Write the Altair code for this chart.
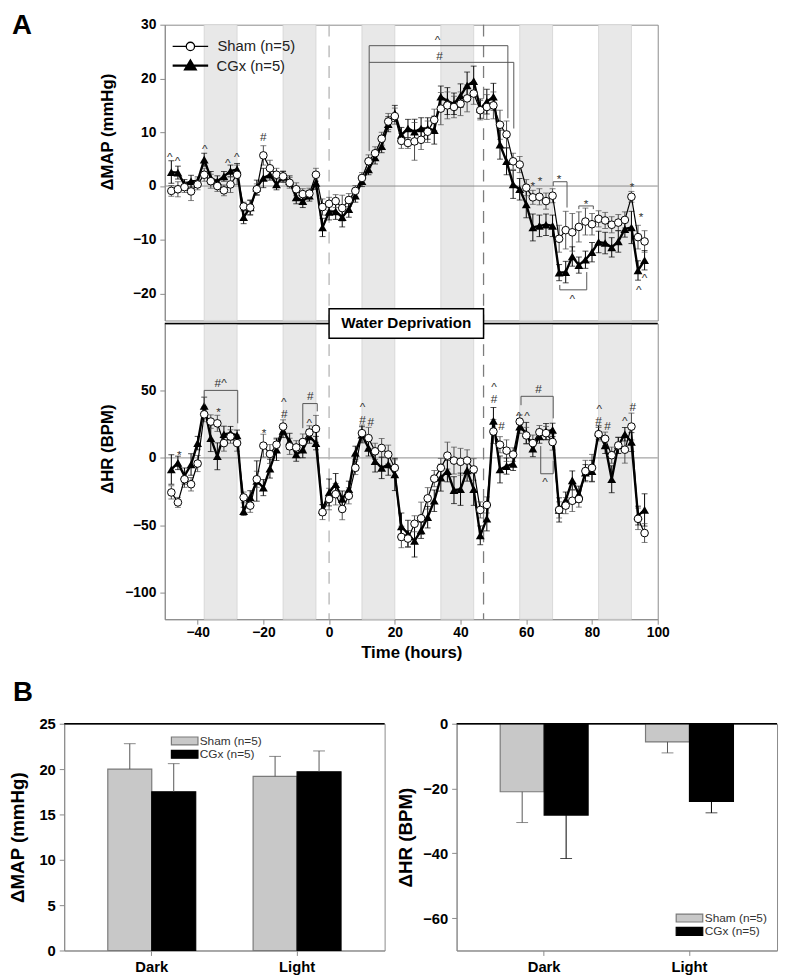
import altair as alt
import pandas as pd

FONT = "Liberation Sans"

# ---------------- time-course data (every 2 h) ----------------
hours = list(range(-48, 97, 2))

map_sham = [
    -0.9, -0.6, -0.2, -1.0, 0.3, 2.1, 0.9, 0.0,
    -0.8, 0.3, 2.1, -3.8, -4.0, -0.6, 5.7, 3.3,
    2.1, 1.8, 0.6, -0.6, -1.5, -1.4, 2.1, -3.9,
    -3.3, -2.8, -4.1, -2.6, -0.9, 1.5, 4.6, 6.1,
    8.8, 12.0, 13.0, 8.4, 8.0, 8.3, 8.6, 10.1,
    12.3, 14.4, 15.0, 14.7, 15.3, 16.3, 17.2, 14.1,
    14.7, 15.0, 11.4, 9.6, 4.6, 4.0, -0.3, -2.1,
    -2.0, -2.8, -1.8, -9.8, -8.2, -8.6, -7.6, -6.6,
    -7.1, -6.1, -6.4, -7.2, -6.8, -6.3, -2.0, -9.5,
    -10.3,
]
map_sham_err = [
    1.0, 1.4, 1.0, 1.7, 1.0, 1.2, 1.3, 1.0,
    1.0, 1.5, 1.8, 0.8, 1.3, 1.0, 1.8, 1.5,
    1.2, 1.0, 1.0, 1.2, 1.0, 1.0, 1.2, 1.5,
    1.2, 1.2, 2.4, 1.2, 1.0, 1.0, 1.2, 1.2,
    1.2, 1.5, 1.5, 1.4, 1.0, 3.5, 1.8, 2.0,
    2.0, 3.0, 2.5, 2.0, 2.2, 2.5, 2.0, 1.8,
    2.3, 2.5, 2.7, 2.5, 1.5, 1.5, 1.5, 1.3,
    1.5, 1.5, 1.3, 2.5, 3.5, 3.5, 2.8, 2.5,
    2.0, 1.5, 1.5, 1.5, 1.5, 1.5, 1.0, 2.2,
    2.0,
]
map_cgx = [
    2.6, 2.5, 0.3, 0.9, 0.9, 4.9, 1.5, 0.9,
    1.8, 2.8, 3.1, -5.8, -4.0, -0.3, 1.5, 2.1,
    0.3, 1.7, 0.9, -2.1, -2.8, -1.8, 0.6, -7.7,
    -4.8, -4.7, -5.8, -4.3, -1.8, 0.9, 3.1, 5.3,
    7.4, 11.5, 13.5, 9.5, 10.7, 10.1, 10.7, 10.7,
    10.4, 16.6, 15.8, 15.3, 16.8, 18.7, 19.5, 14.4,
    15.7, 16.6, 7.7, 4.6, 0.3, -0.6, -3.4, -7.7,
    -7.4, -7.2, -7.4, -16.1, -16.0, -13.1, -14.7, -13.7,
    -12.3, -10.4, -10.6, -11.4, -10.3, -8.0, -7.7, -15.7,
    -13.8,
]
map_cgx_err = [
    2.1, 1.2, 0.9, 1.1, 0.8, 1.2, 1.2, 1.0,
    0.9, 1.1, 1.1, 1.2, 1.4, 1.4, 1.8, 1.0,
    1.0, 1.0, 1.0, 1.2, 1.2, 1.0, 1.2, 1.7,
    1.5, 1.5, 1.8, 1.5, 1.2, 1.0, 1.0, 1.2,
    1.2, 1.4, 1.5, 1.4, 1.7, 2.3, 2.0, 2.0,
    2.6, 2.0, 2.5, 2.0, 2.2, 2.5, 2.8, 1.8,
    2.3, 2.5, 2.7, 2.5, 2.6, 2.0, 2.5, 2.5,
    2.0, 2.0, 2.0, 1.5, 2.0, 1.8, 1.5, 1.6,
    1.8, 2.0, 2.0, 1.8, 2.0, 1.5, 3.0, 1.8,
    1.8,
]
hr_sham = [
    -25.7, -33.1, -15.9, -19.6, -4.2, 32.4, 27.0, 25.7,
    11.0, 15.9, 11.0, -29.4, -35.5, -15.9, 9.1, 2.9,
    9.8, 23.3, 8.6, 7.8, 11.8, 18.9, 21.6, -40.4,
    -30.6, -27.0, -38.0, -28.2, -7.4, 18.4, 14.7, 4.9,
    7.4, 2.5, -7.4, -58.8, -60.0, -49.0, -44.9, -30.1,
    -15.4, -7.4, 1.7, -2.0, -2.9, -2.0, -8.6, -38.7,
    -35.0, 19.6, 9.8, 5.4, 2.5, 27.0, 16.7, 11.0,
    19.1, 18.4, 11.8, -38.7, -35.5, -31.9, -30.6, -9.8,
    -7.4, 17.6, 14.2, 2.0, 9.3, 6.1, 23.3, -45.3,
    -55.9,
]
hr_sham_err = [
    4.9, 3.7, 6, 5, 6, 5.5, 5, 6,
    6, 5, 6, 4, 5, 6, 8.5, 7,
    5, 5, 6, 5, 6, 5, 10, 5.5,
    8, 8, 8, 6, 5, 6, 8, 6,
    7, 7, 6, 8, 6, 6, 12, 8,
    6, 7, 10, 10, 10, 8, 8, 6,
    6, 9, 6, 8, 5, 5, 6, 6,
    5, 5, 6, 6, 6, 8, 6, 8,
    10, 5, 5, 6, 6, 10, 10, 8,
    7,
]
hr_cgx = [
    -8.6, -3.7, -13.5, -4.9, 11.0, 38.7, 14.7, 1.2,
    17.6, 18.4, 16.7, -39.7, -29.4, -17.2, -22.1, -8.0,
    6.1, 20.1, 12.3, 2.5, 6.1, 15.9, 11.0, -38.7,
    -25.7, -19.6, -30.6, -23.3, 3.7, 17.2, 7.4, -2.5,
    -7.4, -4.9, -12.3, -51.0, -56.4, -61.8, -53.9, -44.1,
    -31.9, -14.7, -9.8, -24.0, -23.3, -9.3, -23.3, -57.6,
    -45.3, 27.5, -8.6, -6.1, -4.4, 23.3, 18.4, 6.9,
    15.9, 19.6, 20.8, -38.7, -31.4, -16.7, -27.0, -11.0,
    -9.8, 18.9, 9.3, -15.9, 9.3, 17.6, 11.8, -42.9,
    -38.7,
]
hr_cgx_err = [
    11, 5, 6, 8, 5, 6.5, 10, 10,
    6, 5, 4, 3, 5, 15, 6, 7,
    8, 5, 6, 5, 6, 5, 5, 4,
    10, 8, 6, 6, 5, 6, 6, 8,
    8, 8, 12, 10, 10, 12, 6, 8,
    8, 10, 8, 10, 12, 8, 12, 7,
    9, 10, 10, 6, 5, 5, 8, 6,
    5, 6, 5, 9, 6, 7, 6, 6,
    8, 5, 6, 10, 6, 5, 7, 7,
    12,
]

# dark phases, water-deprivation markers
dark_start = [-38, -14, 10, 34, 58, 82]
dark_end = [-28, -4, 20, 44, 68, 92]
dash_at = [0, 47]
dash_color = ["#b4b4b4", "#7c7c7c"]
wd_label = ["Water Deprivation"]
wd_x = [0, 47]
wd_y = [89, 111]

# significance symbols
map_ann_h = [-48.5, -46.1, -37.8, -30.8, -28.1, -20.0, 33.0, 33.6, 62.0, 64.2,
             70.0, 78.2, 74.0, 92.2, 94.9, 94.2, 96.0]
map_ann_v = [5.9, 5.2, 7.4, 4.9, 5.9, 9.2, 27.7, 24.2, 0.6, 1.5,
             1.9, -2.65, -20.4, 0.4, -5.2, -18.8, -16.6]
map_ann_t = ["^", "^", "^", "^", "^", "#", "^", "#", "*", "*",
             "*", "*", "^", "*", "*", "^", "^"]

hr_ann_h = [-45.6, -33.0, -33.6, -19.8, -13.8, -13.6, -5.7, -6.0, 10.2, 10.2,
            12.7, 50.2, 50.2, 52.5, 57.7, 60.2, 63.7, 65.7, 82.2, 82.0,
            84.7, 90.0, 92.4]
hr_ann_v = [4.9, 55.7, 36.8, 21.3, 43.6, 32.3, 46.1, 28.2, 39.8, 28.0,
            26.6, 55.2, 43.4, 24.0, 33.6, 33.6, 51.5, -16.0, 38.8, 27.6,
            24.0, 29.9, 38.0]
hr_ann_t = ["*", "#^", "*", "*", "^", "#", "#", "^", "^", "#",
            "#", "^", "#", "#", "^", "^", "#", "^", "^", "#",
            "#", "^", "#"]

# brackets
map_seg_x1 = [12.2, 12.2, 54.4, 12.2, 56.2, 68.2, 68.2, 72.4, 76.0, 76.0, 80.4, 70.2, 70.2, 78.4]
map_seg_y1 = [26.1, 26.1, 26.1, 23.0, 23.0, 0.8, 0.8, 0.8, -3.7, -3.7, -3.7, -19.3, -19.3, -19.3]
map_seg_x2 = [54.4, 12.2, 54.4, 56.2, 56.2, 72.4, 68.2, 72.4, 80.4, 76.0, 80.4, 78.4, 70.2, 78.4]
map_seg_y2 = [26.1, 6.5, 12.6, 23.0, 10.7, 0.8, 0.0, -4.0, -3.7, -4.3, -4.3, -19.3, -18.4, -16.0]

hr_seg_x1 = [-38.0, -38.0, -27.8, -8.0, -8.0, -3.6, 58.4, 58.4, 68.2, 64.4, 64.4, 68.2]
hr_seg_y1 = [50.2, 50.2, 50.2, 40.4, 40.4, 40.4, 45.8, 45.8, 45.8, -11.8, -11.8, -11.8]
hr_seg_x2 = [-27.8, -38.0, -27.8, -3.6, -8.0, -3.6, 68.2, 58.4, 68.2, 68.2, 64.4, 68.2]
hr_seg_y2 = [50.2, 39.7, 25.7, 40.4, 22.1, 34.6, 45.8, 39.2, 29.4, -11.8, 8.8, -2.2]

# ---------------- bar data ----------------
groups = ["Sham (n=5)", "CGx (n=5)"]
bar_cats = ["Dark", "Light"]
bar_map_sham = [20.0, 19.2]
bar_map_sham_err = [2.8, 2.2]
bar_map_cgx = [17.5, 19.7]
bar_map_cgx_err = [3.1, 2.3]
bar_hr_sham = [-21.0, -5.6]
bar_hr_sham_err = [9.5, 3.4]
bar_hr_cgx = [-28.2, -24.0]
bar_hr_cgx_err = [13.4, 3.5]

# ---------------- styling ----------------
W = 500
H = 300
BAR_W = 325
BAR_H = 230
AX = "#8a8a8a"
XS = alt.Scale(domain=[-50, 100], nice=False, zero=False)

SHAM_PATH = "M-3,0L-0.7,0M0.7,0L3,0M0.7,0A0.7,0.7 0 1,1 -0.7,0A0.7,0.7 0 1,1 0.7,0Z"
CGX_PATH = "M-3,0L3,0M0,-0.82L0.85,0.62L-0.85,0.62Z"
RECT_PATH = "M-2.45,-0.73L2.45,-0.73L2.45,0.73L-2.45,0.73Z"


def time_panel(sham, sham_err, cgx, cgx_err, ydom, yvals, ytitle, title_y,
               ann_h, ann_v, ann_t, sx1, sy1, sx2, sy2, is_map):
    ys = alt.Scale(domain=ydom, nice=False, zero=False)
    yaxis = alt.Axis(values=yvals, tickSize=5, labelPadding=4, labelFontSize=14,
                     labelFontWeight="bold", labelFlush=False, titleFontSize=17,
                     titleFontWeight="bold", titleAngle=-90, titleAlign="center",
                     titleBaseline="bottom", titleX=-49.5, titleY=title_y,
                     domainColor=AX, tickColor=AX)
    if is_map:
        xkw = dict(axis=None)
    else:
        xkw = dict(axis=alt.Axis(values=[-40, -20, 0, 20, 40, 60, 80, 100], tickSize=5,
                                 labelPadding=2, labelFontSize=14, labelFontWeight="bold",
                                 labelFlush=False, titleFontSize=17, titleFontWeight="bold",
                                 titlePadding=5, domainColor=AX, tickColor=AX),
                   title="Time (hours)")

    def X(f):
        return alt.X(f + ":Q", scale=XS, **xkw)

    def Y(f):
        return alt.Y(f + ":Q", scale=ys, axis=yaxis, title=ytitle)

    ts = pd.DataFrame({"h": hours, "v": sham,
                       "lo": [a - b for a, b in zip(sham, sham_err)],
                       "hi": [a + b for a, b in zip(sham, sham_err)],
                       "g": groups[0], "ec": "#4a4a4a"})
    tc = pd.DataFrame({"h": hours, "v": cgx,
                       "lo": [a - b for a, b in zip(cgx, cgx_err)],
                       "hi": [a + b for a, b in zip(cgx, cgx_err)],
                       "g": groups[1], "ec": "#000000"})
    eb = pd.concat([ts, tc], ignore_index=True)

    if is_map:
        leg_sham = alt.Legend(orient="none", legendX=18.5, legendY=14.5, title=None,
                              symbolType=SHAM_PATH, symbolSize=144, symbolStrokeWidth=1.3,
                              symbolFillColor="white", symbolStrokeColor="black",
                              labelOffset=20, labelFontSize=15, labelColor="#222", padding=0)
        leg_cgx = alt.Legend(orient="none", legendX=18.5, legendY=34, title=None,
                             symbolType=CGX_PATH, symbolSize=144, symbolStrokeWidth=2.4,
                             symbolStrokeColor="black", labelOffset=19, labelFontSize=15,
                             labelColor="#222", padding=0)
    else:
        leg_sham = None
        leg_cgx = None

    layers = [
        alt.Chart(pd.DataFrame({"s": dark_start, "e": dark_end}))
        .mark_rect(color="#e8e8e8", stroke="#d3d3d3", strokeWidth=0.8)
        .encode(x=X("s"), x2="e:Q"),
        alt.Chart(pd.DataFrame({"z": [0]}))
        .mark_rule(color="#8c8c8c", strokeWidth=1)
        .encode(y=Y("z")),
        alt.Chart(pd.DataFrame({"d": dash_at, "c": dash_color}))
        .mark_rule(strokeDash=[12, 9], strokeWidth=1.3)
        .encode(x=X("d"), color=alt.Color("c:N", scale=None)),
        alt.Chart(eb).mark_rule(strokeWidth=1)
        .encode(x=X("h"), y=Y("lo"), y2="hi:Q", color=alt.Color("ec:N", scale=None)),
        alt.Chart(eb).mark_tick(orient="horizontal", size=6, thickness=1)
        .encode(x=X("h"), y=Y("lo"), color=alt.Color("ec:N", scale=None)),
        alt.Chart(eb).mark_tick(orient="horizontal", size=6, thickness=1)
        .encode(x=X("h"), y=Y("hi"), color=alt.Color("ec:N", scale=None)),
        alt.Chart(tc).mark_line(color="black", strokeWidth=2.4)
        .encode(x=X("h"), y=Y("v")),
        alt.Chart(tc).mark_point(shape="triangle-up", filled=True, size=80, opacity=1)
        .encode(x=X("h"), y=Y("v"),
                fill=alt.Fill("g:N", scale=alt.Scale(domain=[groups[1]], range=["black"]),
                              legend=leg_cgx)),
        alt.Chart(ts).mark_line(color="black", strokeWidth=1.2)
        .encode(x=X("h"), y=Y("v")),
        alt.Chart(ts).mark_point(shape="circle", filled=True, fill="white", size=60,
                                 strokeWidth=1, opacity=1)
        .encode(x=X("h"), y=Y("v"),
                stroke=alt.Stroke("g:N", scale=alt.Scale(domain=[groups[0]], range=["black"]),
                                  legend=leg_sham)),
        alt.Chart(pd.DataFrame({"x1": sx1, "y1": sy1, "x2": sx2, "y2": sy2}))
        .mark_rule(color="#555555", strokeWidth=1)
        .encode(x=X("x1"), y=Y("y1"), x2="x2:Q", y2="y2:Q"),
    ]

    ann = pd.DataFrame({"h": ann_h, "v": ann_v, "t": ann_t})
    for sym, dy in (("^", 3), ("*", 3.5), ("#", 0), ("#^", 0)):
        sub = ann[ann.t == sym]
        if len(sub):
            layers.append(
                alt.Chart(sub).mark_text(fontSize=12, color="#333333", dy=dy, baseline="middle")
                .encode(x=X("h"), y=Y("v"), text="t:N"))

    if not is_map:
        layers.append(
            alt.Chart(pd.DataFrame({"z": [ydom[1]]}))
            .mark_rule(color="black", strokeWidth=1.5)
            .encode(y=Y("z")))
        layers.append(
            alt.Chart(pd.DataFrame({"a": [wd_x[0]], "b": [wd_x[1]], "c": [wd_y[0]], "d": [wd_y[1]]}))
            .mark_rect(fill="white", stroke="black", strokeWidth=1.5)
            .encode(x=X("a"), x2="b:Q", y=Y("c"), y2="d:Q"))
        layers.append(
            alt.Chart(pd.DataFrame({"x": [(wd_x[0] + wd_x[1]) / 2], "y": [(wd_y[0] + wd_y[1]) / 2],
                                    "t": wd_label}))
            .mark_text(fontSize=15.5, fontWeight="bold", color="black", baseline="middle")
            .encode(x=X("x"), y=Y("y"), text="t:N"))

    return alt.layer(*layers).properties(width=W, height=H)


def bar_panel(sham, sham_err, cgx, cgx_err, ydom, yvals, ytitle, title_x, up,
              err_colors, leg_x, leg_y, leg_off, border_val, letter):
    sign = 1 if up else -1
    df = pd.DataFrame({
        "cat": bar_cats * 2,
        "g": [groups[0]] * 2 + [groups[1]] * 2,
        "v": sham + cgx,
        "end": [v + sign * e for v, e in zip(sham + cgx, sham_err + cgx_err)],
        "ec": [err_colors[0]] * 2 + [err_colors[1]] * 2,
    })
    xb = alt.X("cat:N", scale=alt.Scale(domain=bar_cats, paddingInner=0.395, paddingOuter=0.30),
               axis=alt.Axis(labelAngle=0, labelFontSize=15, labelFontWeight="bold",
                             labelPadding=4, tickSize=5, domainColor=AX, tickColor=AX, title=None))
    xo = alt.XOffset("g:N", scale=alt.Scale(domain=groups, paddingInner=0, paddingOuter=0))
    yaxis = alt.Axis(values=yvals, tickSize=5, labelPadding=4, labelFontSize=15,
                     labelFontWeight="bold", labelFlush=False, titleFontSize=19,
                     titleFontWeight="bold", titleAngle=-90, titleAlign="center",
                     titleBaseline="bottom", titleX=title_x, domainColor=AX, tickColor=AX)
    ys = alt.Scale(domain=ydom, nice=False)

    def Y(f):
        return alt.Y(f + ":Q", scale=ys, axis=yaxis, title=ytitle)

    legend = alt.Legend(orient="none", legendX=leg_x, legendY=leg_y, title=None,
                        symbolType=RECT_PATH, symbolSize=121, symbolStrokeColor="#555555",
                        symbolStrokeWidth=1.2, labelOffset=leg_off, labelFontSize=12,
                        labelColor="#333333", rowPadding=0.5, padding=0)
    layers = [
        alt.Chart(df).mark_bar(strokeWidth=1.2).encode(
            x=xb, xOffset=xo, y=Y("v"),
            fill=alt.Fill("g:N", scale=alt.Scale(domain=groups, range=["#c8c8c8", "#000000"]),
                          legend=legend),
            stroke=alt.Stroke("g:N", scale=alt.Scale(domain=groups, range=["#7a7a7a", "#000000"]),
                              legend=None)),
        alt.Chart(df).mark_rule(strokeWidth=1).encode(
            x=xb, xOffset=xo, y=Y("v"), y2="end:Q", color=alt.Color("ec:N", scale=None)),
        alt.Chart(df).mark_tick(orient="horizontal", size=12, thickness=1).encode(
            x=xb, xOffset=xo, y=Y("end"), color=alt.Color("ec:N", scale=None)),
        alt.Chart(pd.DataFrame({"z": [border_val]})).mark_rule(color="black", strokeWidth=1.3)
        .encode(y=Y("z")),
    ]
    if letter:
        layers.append(
            alt.Chart(pd.DataFrame({"t": [letter]}))
            .mark_text(align="left", baseline="top", fontSize=28, fontWeight="bold", color="black")
            .encode(x=alt.value(-52), y=alt.value(-45.5), text="t:N"))
    return alt.layer(*layers).properties(width=BAR_W, height=BAR_H)


map_panel = time_panel(map_sham, map_sham_err, map_cgx, map_cgx_err, [-25, 30],
                       [-20, -10, 0, 10, 20, 30], "\u0394MAP (mmHg)", 108.5,
                       map_ann_h, map_ann_v, map_ann_t,
                       map_seg_x1, map_seg_y1, map_seg_x2, map_seg_y2, True)
hr_panel = time_panel(hr_sham, hr_sham_err, hr_cgx, hr_cgx_err, [-120, 100],
                      [-100, -50, 0, 50], "\u0394HR (BPM)", 127,
                      hr_ann_h, hr_ann_v, hr_ann_t,
                      hr_seg_x1, hr_seg_y1, hr_seg_x2, hr_seg_y2, False)

panels = alt.vconcat(map_panel, hr_panel, spacing=-16).resolve_scale(
    fill="independent", stroke="independent", color="independent")

# narrow blank cell carrying the panel letter "A" (keeps the time panels indented)
letter_a = (
    alt.Chart(pd.DataFrame({"t": ["A"]}))
    .mark_text(align="left", baseline="top", fontSize=28, fontWeight="bold", color="black")
    .encode(x=alt.value(-53), y=alt.value(-12.5), text="t:N")
    .properties(width=33, height=10, view=alt.ViewBackground(stroke="transparent"))
)

top = alt.hconcat(letter_a, panels, spacing=0).resolve_scale(
    fill="independent", stroke="independent", color="independent")

bar_left = bar_panel(bar_map_sham, bar_map_sham_err, bar_map_cgx, bar_map_cgx_err,
                     [0, 25], [0, 5, 10, 15, 20, 25], "\u0394MAP (mmHg)", -37.5, True,
                     ["#555555", "#555555"], 115.7, 11, 8.7, 25, "B")
bar_right = bar_panel(bar_hr_sham, bar_hr_sham_err, bar_hr_cgx, bar_hr_cgx_err,
                      [-70, 0], [0, -20, -40, -60], "\u0394HR (BPM)", -42, False,
                      ["#555555", "#000000"], 229.7, 190.6, 9, 0, None)

bottom = alt.hconcat(bar_left, bar_right, spacing=9).resolve_scale(
    fill="independent", stroke="independent", color="independent", y="independent")

chart = (
    alt.vconcat(top, bottom, spacing=17)
    .resolve_scale(fill="independent", stroke="independent", color="independent")
    .properties(padding={"left": 0, "top": -3, "right": 0, "bottom": 0})
    .configure(font=FONT)
    .configure_view(stroke=AX, strokeWidth=1)
    .configure_axis(grid=False, labelColor="black", titleColor="black",
                    labelFont=FONT, titleFont=FONT)
    .configure_legend(labelFont=FONT)
)

chart.save("out.html", embed_options={"renderer": "svg", "actions": False})
